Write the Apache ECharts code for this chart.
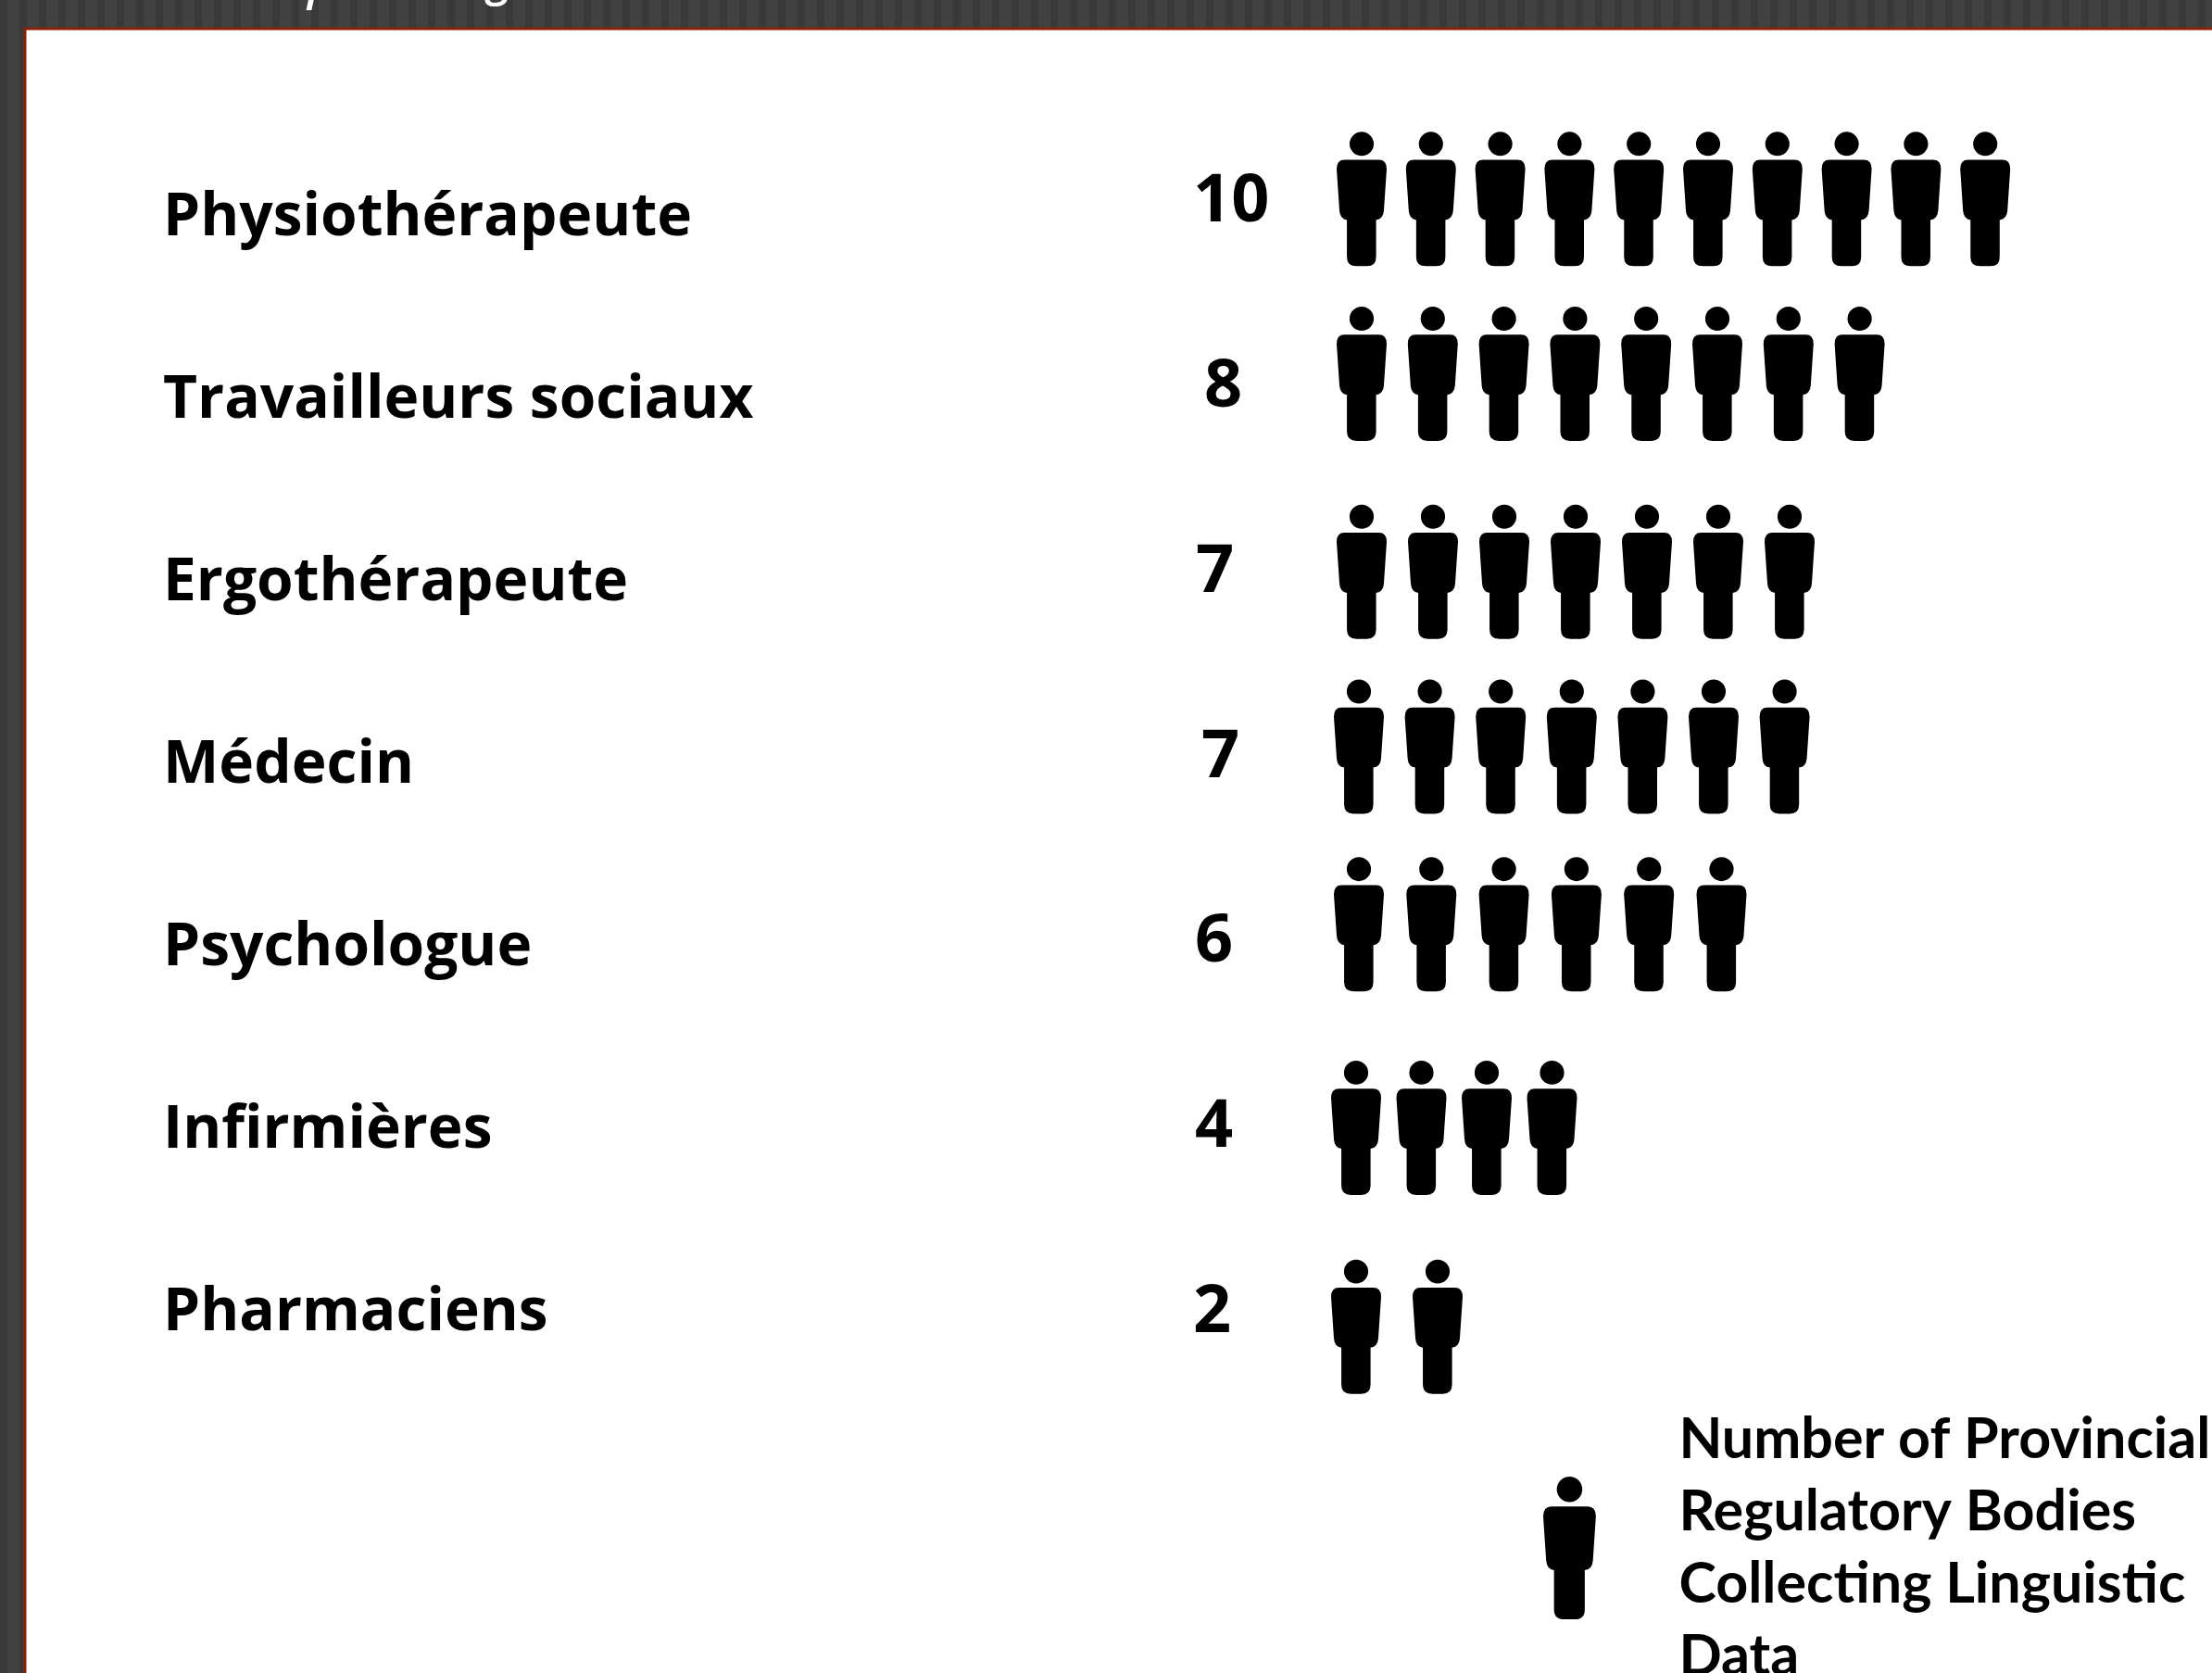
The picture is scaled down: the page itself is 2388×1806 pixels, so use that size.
<!DOCTYPE html>
<html>
<head>
<meta charset="utf-8">
<title>Physiothérapeute</title>
<style>
  html, body { margin: 0; padding: 0; background: #3f3f3f; }
  #main { width: 2388px; height: 1806px; }
</style>
<script src="https://cdn.jsdelivr.net/npm/echarts@6/dist/echarts.min.js"></script>
</head>
<body>
<div id="main"></div>
<script>
// data
const professions = ['Physiothérapeute', 'Travailleurs sociaux', 'Ergothérapeute', 'Médecin', 'Psychologue', 'Infirmières', 'Pharmaciens'];
const bodyCounts = [10, 8, 7, 7, 6, 4, 2];
const legendName = 'Number of Provincial\nRegulatory Bodies\nCollecting Linguistic\nData';

// the icons are hand placed in the original, so each row gets its own nudge
const rowSpacing = [74.8, 76.8, 77, 76.6, 78.3, 70.5, 88];
const rowDx = [0, 0, 0, -3, -3, -6, -6];
const rowDy = [2, -9, 5, -6, -14, 6, 21];
const countPad = [0, 12, 3, 9, 2, 2, 0];

const iconW = 54;
const iconH = 145;
const gridW = 900;
const axisMax = 12;
const pxPerUnit = gridW / axisMax;

const personPath = 'path://M41.5,38 A39,39 0 1 1 119.5,38 A39,39 0 1 1 41.5,38 Z ' +
  'M25,90 L136,90 Q161,90 161,120 L152,255 Q150,282 127,285 L127,405 Q127,435 97,435 L64,435 ' +
  'Q33,435 33,405 L33,285 Q11,282 9,255 L0,120 Q0,90 25,90 Z';

// dark striped slide background
const stripes = document.createElement('canvas');
stripes.width = 21;
stripes.height = 4;
const sctx = stripes.getContext('2d');
sctx.fillStyle = '#414141';
sctx.fillRect(0, 0, 21, 4);
sctx.fillStyle = '#393939';
sctx.fillRect(0, 0, 8, 4);

const chart = echarts.init(document.getElementById('main'));

chart.setOption({
  animation: false,
  backgroundColor: { image: stripes, repeat: 'repeat' },
  graphic: [
    { type: 'rect', z: -10, shape: { x: 27, y: 31, width: 2400, height: 1800 }, style: { fill: '#ffffff', stroke: '#8a2208', lineWidth: 3 } },
    { type: 'text', z: -5, x: 332, y: -40, style: { text: 'p', fill: '#ffffff', font: 'italic 600 50px "Open Sans"' } },
    { type: 'text', z: -5, x: 526, y: -44, style: { text: 'g', fill: '#ffffff', font: 'italic 600 50px "Open Sans"' } }
  ],
  legend: {
    left: 1661,
    top: 1510,
    orient: 'vertical',
    itemWidth: 58,
    itemHeight: 154,
    selectedMode: false,
    data: [{ name: legendName, icon: personPath }],
    textStyle: {
      color: '#000',
      fontFamily: 'Lato',
      fontWeight: 'bold',
      fontSize: 61,
      lineHeight: 78,
      padding: [0, 0, 0, 84]
    }
  },
  grid: [
    { left: 176, top: 137, width: gridW, height: 1379 },
    { left: 1443, top: 119, width: gridW, height: 1398 }
  ],
  xAxis: [
    { gridIndex: 0, type: 'value', min: 0, max: axisMax, show: false },
    { gridIndex: 1, type: 'value', min: 0, max: axisMax, show: false }
  ],
  yAxis: [
    {
      gridIndex: 0,
      type: 'category',
      inverse: true,
      data: professions,
      axisLine: { show: false },
      axisTick: { show: false },
      axisLabel: { align: 'left', margin: 0, color: '#000', fontFamily: 'Open Sans', fontWeight: 'bold', fontSize: 64 }
    },
    {
      gridIndex: 1,
      type: 'category',
      inverse: true,
      data: bodyCounts.map((v, i) => ({ value: String(v), textStyle: { align: 'left', padding: [0, 0, 0, countPad[i]] } })),
      axisLine: { show: false },
      axisTick: { show: false },
      axisLabel: { align: 'left', margin: 155, color: '#000', fontFamily: 'Open Sans', fontWeight: 'bold', fontSize: 72 }
    }
  ],
  series: [{
    name: legendName,
    type: 'pictorialBar',
    xAxisIndex: 1,
    yAxisIndex: 1,
    symbol: personPath,
    symbolSize: [iconW, iconH],
    symbolPosition: 'start',
    itemStyle: { color: '#000' },
    data: bodyCounts.map((v, i) => ({
      value: v,
      symbolRepeat: v,
      symbolBoundingData: ((v - 1) * rowSpacing[i] + iconW) / pxPerUnit,
      symbolOffset: [rowDx[i], rowDy[i] - 6]
    }))
  }]
});
</script>
</body>
</html>
